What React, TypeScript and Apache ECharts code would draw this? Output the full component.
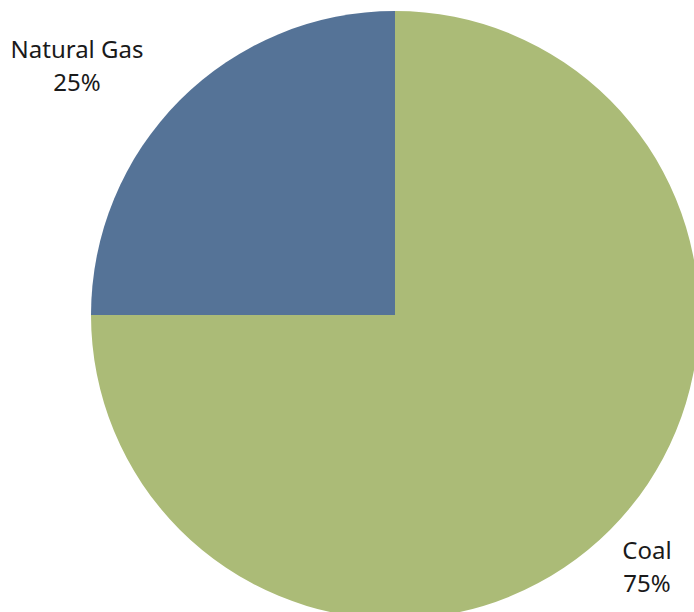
import React, { useEffect, useRef } from "react";
import * as echarts from "echarts";

const categories = ["Coal", "Natural Gas"];
const values = [75, 25];
const colors = ["#ABBB77", "#557397"];

// label anchor positions (center of label block), in px
const labelPos: Record<string, [number, number]> = {
  "Coal": [647, 566],
  "Natural Gas": [77, 65],
};

export default function App() {
  const ref = useRef<HTMLDivElement>(null);
  useEffect(() => {
    if (!ref.current) return;
    const chart = echarts.init(ref.current, null, { renderer: "svg" });
    chart.setOption({
      animation: false,
      backgroundColor: "#ffffff",
      series: [
        {
          type: "pie",
          center: [395, 315],
          radius: [0, 304],
          startAngle: 90,
          clockwise: true,
          data: categories.map((c, i) => ({
            name: c,
            value: values[i],
            itemStyle: { color: colors[i] },
          })),
          label: {
            show: true,
            position: "outside",
            formatter: "{b}\n{d}%",
            fontFamily: "Noto Sans",
            fontSize: 24,
            lineHeight: 33,
            color: "#1a1a1a",
            align: "center",
            overflow: "none",
            width: 200,
            edgeDistance: 0,
            bleedMargin: 0,
          },
          labelLine: { show: false },
          labelLayout: (params: any) => {
            const name = categories[params.dataIndex];
            const p = labelPos[name];
            return { x: p[0], y: p[1], align: "center", verticalAlign: "middle" };
          },
          emphasis: { disabled: true },
        },
      ],
    });
    return () => chart.dispose();
  }, []);
  return (
    <div
      ref={ref}
      style={{ position: "fixed", left: 0, top: 0, width: 694, height: 612 }}
    />
  );
}
